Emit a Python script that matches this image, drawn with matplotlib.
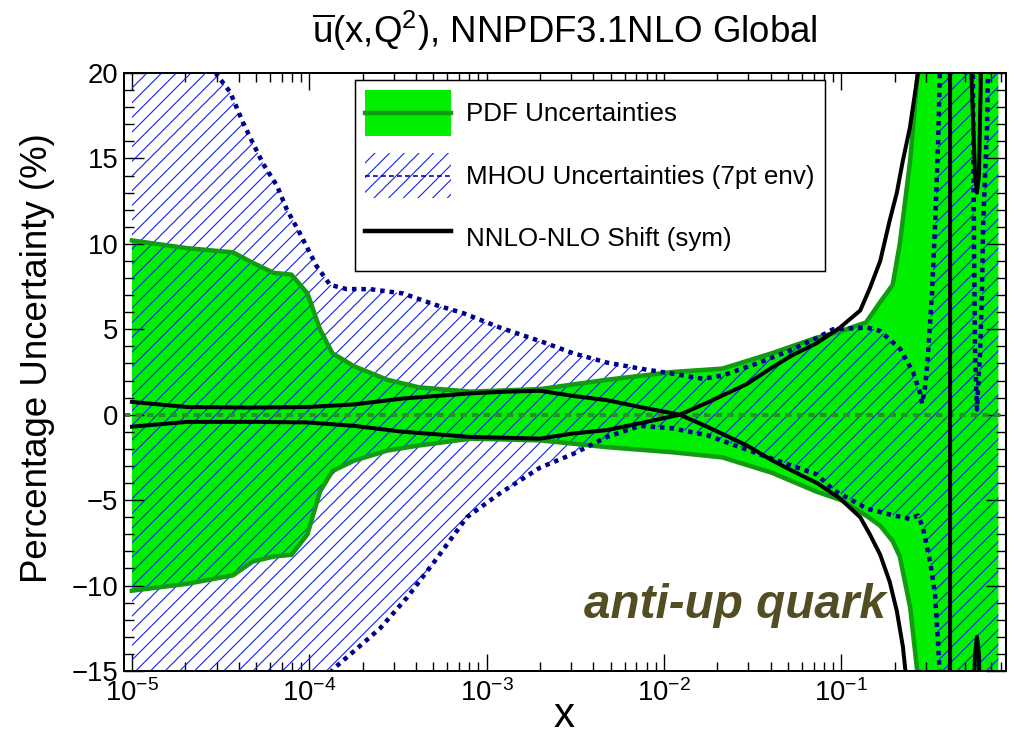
import matplotlib
matplotlib.use('Agg')
import matplotlib.pyplot as plt
from matplotlib.patches import Patch, Rectangle
from matplotlib.lines import Line2D
from matplotlib.legend_handler import HandlerBase
from matplotlib.ticker import LogLocator, MultipleLocator, LogFormatterSciNotation, FixedLocator, NullFormatter

DPI = 132
PX = 72.0 / DPI  # points per pixel

plt.rcParams['font.family'] = ['Liberation Sans', 'DejaVu Sans']
plt.rcParams['mathtext.fontset'] = 'custom'
plt.rcParams['mathtext.rm'] = 'Liberation Sans'
plt.rcParams['mathtext.it'] = 'Liberation Sans:italic'
plt.rcParams['mathtext.bf'] = 'Liberation Sans:bold'
plt.rcParams['hatch.linewidth'] = 1.1 * PX
plt.rcParams['axes.unicode_minus'] = True

# ---------------- data ----------------
# PDF uncertainty band (percent)
x_pdf = [1.0e-5, 2.04e-5, 3.72e-5, 4.79e-5, 6.31e-5, 7.94e-5, 9.77e-5, 1.15e-4,
         1.35e-4, 1.78e-4, 2.75e-4, 4.17e-4, 8.13e-4, 2.0e-3, 4.79e-3, 1.12e-2,
         2.14e-2, 4.07e-2, 7.24e-2, 0.100, 0.138, 0.166, 0.195, 0.214, 0.245,
         0.275, 0.316, 0.77]
pdf_up = [10.2, 9.75, 9.5, 8.9, 8.3, 8.2, 7.1, 5.0, 3.6, 2.85, 2.05, 1.6, 1.35,
          1.5, 2.05, 2.5, 2.7, 3.6, 4.5, 4.9, 5.4, 6.6, 7.6, 10.0, 14.9, 21.0,
          60.0, 60.0]
pdf_lo = [-10.3, -9.9, -9.4, -8.6, -8.3, -8.2, -7.0, -4.5, -3.3, -2.7, -2.1,
          -1.8, -1.4, -1.5, -1.9, -2.2, -2.5, -3.4, -4.5, -5.0, -5.9, -6.5, -7.4,
          -8.3, -11.3, -16.0, -60.0, -60.0]

# MHOU (7pt envelope) band, upper edge
x_mhou_up = [1.0e-5, 2.0e-5, 3.01e-5, 3.57e-5, 4.23e-5, 4.81e-5, 5.48e-5, 6.58e-5,
             7.48e-5, 8.87e-5, 1.10e-4, 1.31e-4, 1.63e-4, 2.20e-4, 3.37e-4, 5.25e-4,
             7.36e-4, 1.19e-3, 2.08e-3, 3.07e-3, 4.78e-3, 7.33e-3, 1.12e-2, 1.66e-2,
             2.15e-2, 3.35e-2, 5.14e-2, 7.31e-2, 9.0e-2, 0.140, 0.166, 0.215, 0.254,
             0.278, 0.286, 0.297, 0.305, 0.309, 0.325, 0.338, 0.352, 0.361, 0.468,
             0.540, 0.553, 0.561, 0.569, 0.583, 0.598, 0.607, 0.622, 0.631, 0.647,
             0.664, 0.673, 0.692, 0.77]
mhou_up = [45.0, 27.0, 19.9, 18.9, 17.1, 15.9, 14.7, 13.4, 12.0, 10.6, 8.7, 7.6,
           7.35, 7.35, 7.1, 6.4, 5.95, 5.1, 4.25, 3.6, 3.05, 2.7, 2.4, 2.1, 2.3, 3.0,
           3.75, 4.5, 5.0, 5.1, 4.9, 3.85, 2.5, 1.3, 0.65, 1.6, 2.8, 3.6, 7.1, 11.0,
           15.9, 20.5, 60.0, 30.0, 20.0, 10.0, 3.6, 0.3, 2.5, 3.6, 7.1, 11.0, 13.9,
           16.8, 20.0, 40.0, 60.0]
# MHOU band, lower edge
x_mhou_lo = [1.0e-5, 5.0e-5, 1.36e-4, 1.76e-4, 2.51e-4, 3.56e-4, 5.25e-4, 7.74e-4,
             1.19e-3, 2.0e-3, 3.07e-3, 4.78e-3, 7.33e-3, 1.12e-2, 1.75e-2, 2.69e-2,
             4.12e-2, 7.31e-2, 9.0e-2, 0.140, 0.181, 0.244, 0.271, 0.289, 0.317,
             0.338, 0.352, 0.361, 0.468, 0.77]
mhou_lo = [-45.0, -22.0, -14.9, -13.9, -12.5, -10.7, -8.4, -6.0, -4.6, -3.1, -2.3,
           -1.3, -0.65, -0.8, -1.2, -1.9, -2.6, -3.5, -4.4, -5.5, -5.8, -6.1, -5.9,
           -6.6, -8.6, -10.5, -13.4, -15.5, -60.0, -60.0]

# NNLO-NLO shift: the two (nearly symmetric) branches
x_shift = [1.0e-5, 2.04e-5, 4.79e-5, 9.77e-5, 1.78e-4, 3.39e-4, 8.13e-4, 1.3e-3,
           2.0e-3, 3.07e-3, 4.78e-3, 7.33e-3, 1.23e-2, 1.75e-2, 2.27e-2, 2.94e-2,
           4.12e-2, 5.34e-2, 7.31e-2, 9.84e-2, 0.128, 0.145, 0.166, 0.188, 0.206,
           0.223, 0.244, 0.271, 0.316, 0.407, 0.415, 0.50, 0.540, 0.569, 0.583,
           0.598, 0.615, 0.692, 0.77]
shift_a = [0.75, 0.45, 0.42, 0.45, 0.6, 0.95, 1.25, 1.35, 1.4, 1.1, 0.85, 0.45, 0.0,
           -0.7, -1.25, -1.8, -2.7, -3.3, -4.0, -4.9, -6.0, -7.0, -8.2, -9.8, -11.5,
           -13.6, -17.5, -22.0, -40.0, -400.0, 400.0, 40.0, 20.5, 14.0, 13.0, 14.0,
           20.5, 60.0, 80.0]
shift_b = [-0.7, -0.42, -0.42, -0.45, -0.65, -1.0, -1.3, -1.35, -1.4, -1.1, -0.9,
           -0.5, 0.0, 0.7, 1.25, 1.8, 2.8, 3.5, 4.2, 5.1, 6.1, 7.4, 9.0, 11.4, 13.0,
           14.9, 16.8, 20.0, 40.0, 400.0, -400.0, -40.0, -20.5, -14.0, -13.0, -14.0,
           -20.5, -60.0, -80.0]

x_ticks = [1e-5, 1e-4, 1e-3, 1e-2, 1e-1]
y_ticks = [-15, -10, -5, 0, 5, 10, 15, 20]
y_ticklabels = ['\u221215', '\u221210', '\u22125', '0', '5', '10', '15', '20']
legend_labels = ['PDF Uncertainties', 'MHOU Uncertainties (7pt env)', 'NNLO-NLO Shift (sym)']

GREEN = '#00ee00'
DKGREEN = '#129a12'
ZEROC = '#2c8c2c'
NAVY = '#00008c'
BLUE = '#1020ff'
OLIVE = '#524d22'

plt.rcParams['hatch.color'] = BLUE
HATCH = '///'

# ---------------- figure ----------------
fig = plt.figure(figsize=(1015 / DPI, 736 / DPI), dpi=DPI)
ax = fig.add_axes([124 / 1015, 1 - 671 / 736, 882 / 1015, 598 / 736])
ax.set_xscale('log')
ax.set_xlim(9.02e-6, 0.850)
ax.set_ylim(-15, 20)

ax.fill_between(x_pdf, pdf_lo, pdf_up, facecolor=GREEN, edgecolor='none',
                linewidth=0, zorder=1)

poly_x = list(x_mhou_up) + list(x_mhou_lo)[::-1]
poly_y = list(mhou_up) + list(mhou_lo)[::-1]
ax.fill(poly_x, poly_y, facecolor='none', edgecolor=BLUE, hatch=HATCH,
        linewidth=0, zorder=2)

ax.plot(x_pdf, pdf_up, color=DKGREEN, lw=4.5 * PX, zorder=3)
ax.plot(x_pdf, pdf_lo, color=DKGREEN, lw=4.5 * PX, zorder=3)

ax.axhline(0, color=ZEROC, lw=4.0 * PX, ls=(0, (1.6, 1.3)), zorder=3.5)

ax.plot(x_mhou_up, mhou_up, color=NAVY, lw=4.5 * PX, ls=(0, (1, 1.1)),
        dash_capstyle='butt', zorder=4)
ax.plot(x_mhou_lo, mhou_lo, color=NAVY, lw=4.5 * PX, ls=(0, (1, 1.1)),
        dash_capstyle='butt', zorder=4)

ax.plot(x_shift, shift_a, color='black', lw=4.0 * PX, zorder=5)
ax.plot(x_shift, shift_b, color='black', lw=4.0 * PX, zorder=5)

# ---------------- axes styling ----------------
for sp in ax.spines.values():
    sp.set_linewidth(2.0 * PX)
    sp.set_zorder(6)

ax.xaxis.set_major_locator(FixedLocator(x_ticks))
ax.xaxis.set_major_formatter(LogFormatterSciNotation())
ax.xaxis.set_minor_locator(LogLocator(base=10, subs=[2, 3, 4, 5, 6, 7, 8, 9], numticks=20))
ax.xaxis.set_minor_formatter(NullFormatter())
ax.yaxis.set_major_locator(FixedLocator(y_ticks))
ax.yaxis.set_minor_locator(MultipleLocator(1))
ax.set_yticklabels(y_ticklabels)

ax.tick_params(which='both', direction='in', top=True, right=True,
               width=1.4 * PX, color='black')
ax.tick_params(axis='x', which='major', length=17 * PX, pad=4.5, labelsize=15)
ax.tick_params(axis='x', which='minor', length=9 * PX)
ax.tick_params(axis='y', which='major', length=20 * PX, pad=3.2, labelsize=15)
ax.tick_params(axis='y', which='minor', length=10 * PX)

# ---------------- texts ----------------
fig.text(565 / 1015, 1 - 31 / 736,
         r'$\overline{\mathrm{u}}$(x,Q$^2$), NNPDF3.1NLO Global',
         ha='center', va='center', fontsize=20)
fig.text(38 / 1015, 1 - 358 / 736, 'Percentage Uncertainty (%)', rotation=90,
         ha='center', va='center', fontsize=20)
fig.text(564 / 1015, 1 - 716 / 736, 'x', ha='center', va='center', fontsize=23)
fig.text(735 / 1015, 1 - 606 / 736, 'anti-up quark', ha='center', va='center',
         fontsize=26, fontweight='bold', fontstyle='italic', color=OLIVE, zorder=7)


# ---------------- legend ----------------
class BandHandler(HandlerBase):
    def __init__(self, face, hatch, hcolor, lcolor, lw, ls):
        super().__init__()
        self.face, self.hatch, self.hcolor = face, hatch, hcolor
        self.lcolor, self.lw, self.ls = lcolor, lw, ls

    def create_artists(self, legend, orig_handle, xdescent, ydescent, width,
                       height, fontsize, trans):
        r = Rectangle((-xdescent, -ydescent), width, height,
                      facecolor=self.face, edgecolor=self.hcolor,
                      hatch=self.hatch, linewidth=0, transform=trans)
        y = -ydescent + height / 2
        ln = Line2D([-xdescent, -xdescent + width], [y, y], color=self.lcolor,
                    lw=self.lw, ls=self.ls, transform=trans)
        return [r, ln]


h_pdf = Patch(facecolor=GREEN)
h_mhou = Patch(facecolor='none', hatch=HATCH)
h_shift = Line2D([], [], color='black', lw=4.5 * PX)
leg = ax.legend([h_pdf, h_mhou, h_shift], legend_labels,
                handler_map={
                    h_pdf: BandHandler(GREEN, None, 'none', DKGREEN, 4.5 * PX, '-'),
                    h_mhou: BandHandler('none', HATCH, BLUE, NAVY, 1.6 * PX, (0, (3, 2))),
                },
                loc='upper left', bbox_to_anchor=((355 - 124) / 882, (671 - 80) / 598),
                borderaxespad=0, fontsize=14.2, handlelength=3.3, handleheight=2.3,
                labelspacing=0.66, borderpad=0.4, handletextpad=0.55,
                fancybox=False, framealpha=1, edgecolor='black')
leg.get_frame().set_linewidth(1.5 * PX)
leg.set_zorder(8)

fig.savefig('out.png', dpi=DPI)
